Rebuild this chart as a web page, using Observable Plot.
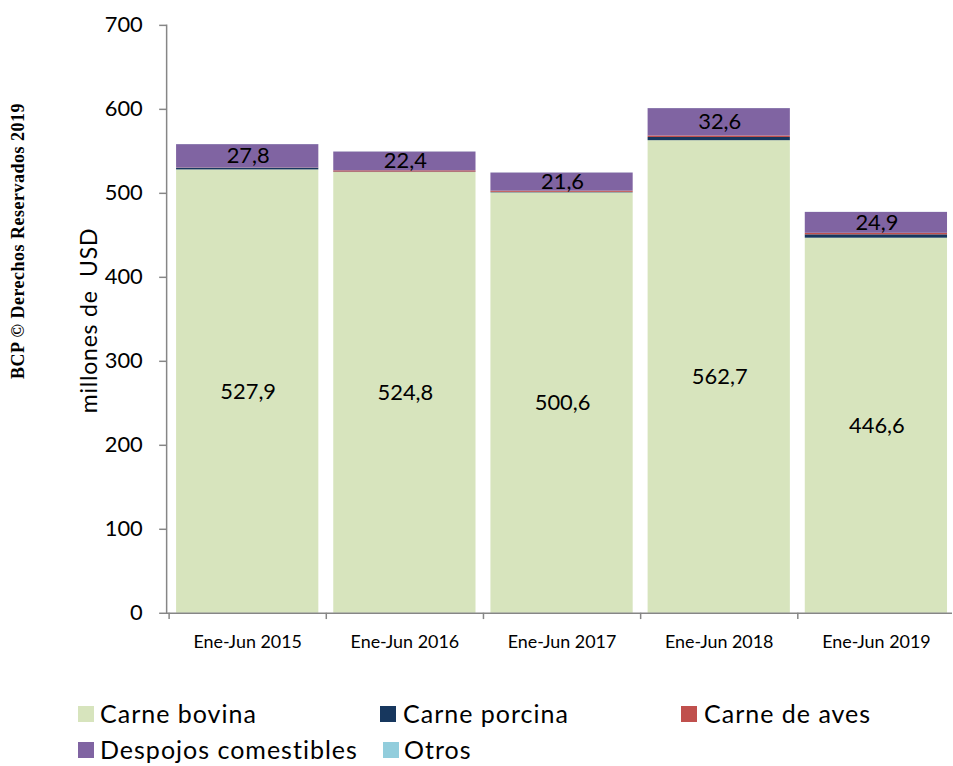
<!DOCTYPE html>
<html>
<head>
<meta charset="utf-8">
<script src="https://cdn.jsdelivr.net/npm/d3@7"></script>
<script src="https://cdn.jsdelivr.net/npm/@observablehq/plot@0.6"></script>
<style>
  html, body { margin: 0; padding: 0; background: #fff; overflow: hidden; }
  #wrap { position: relative; width: 953px; height: 766px; overflow: hidden; font-family: Lato, sans-serif; }
  #chart { position: absolute; left: 0; top: 0; }
  .rot { position: absolute; white-space: pre; transform-origin: center center; line-height: 1; }
  .leg { position: absolute; font-size: 25px; letter-spacing: 1px; color: #000; white-space: pre; line-height: 1; }
  .sw { position: absolute; width: 16px; height: 16px; }
</style>
</head>
<body>
<div id="wrap">
  <div id="chart"></div>
  <div class="rot" id="copy" style="font-family:'Liberation Serif',serif;font-weight:bold;font-size:18px;letter-spacing:0.5px;left:-132px;top:232px;width:300px;text-align:center;transform:rotate(-90deg);">BCP © Derechos Reservados 2019</div>
  <div class="rot" id="ylab" style="font-size:23px;letter-spacing:0.8px;left:-12px;top:309px;width:200px;text-align:center;transform:rotate(-90deg);">millones de  USD</div>
  <div id="legend"></div>
</div>
<script>
const years = ["Ene-Jun 2015", "Ene-Jun 2016", "Ene-Jun 2017", "Ene-Jun 2018", "Ene-Jun 2019"];
const seriesNames = ["Carne bovina", "Carne porcina", "Carne de aves", "Despojos comestibles", "Otros"];
const seriesColors = ["#d7e4bd", "#17375e", "#c0504d", "#8064a2", "#92cddc"];
const bovina   = [527.9, 524.8, 500.6, 562.7, 446.6];
const porcina  = [2.0, 0.5, 0.6, 3.8, 4.0];
const aves     = [0.3, 1.5, 1.4, 1.8, 1.8];
const despojos = [27.8, 22.4, 21.6, 32.6, 24.9];
const otros    = [0.1, 0.1, 0.1, 0.1, 0.1];
const yTicks = [0, 100, 200, 300, 400, 500, 600, 700];
const labeled = ["Carne bovina", "Despojos comestibles"];

const seriesValues = [bovina, porcina, aves, despojos, otros];
const data = [];
seriesNames.forEach((s, i) => years.forEach((y, j) => data.push({year: y, series: s, value: seriesValues[i][j]})));
const fmt = v => v.toFixed(1).replace(".", ",");

const gray = "#868686";
const plot = Plot.plot({
  width: 958,
  height: 690,
  marginLeft: 167,
  marginRight: 1,
  marginTop: 25,
  marginBottom: 74,
  style: {fontFamily: "Lato, sans-serif", background: "transparent"},
  x: {domain: years, range: [169, 959], paddingInner: 0.095, paddingOuter: 0.0475, axis: null, label: null},
  y: {domain: [0, 700], axis: null, label: null},
  color: {domain: seriesNames, range: seriesColors},
  marks: [
    Plot.barY(data, {x: "year", y: "value", fill: "series", order: seriesNames}),
    Plot.text(data, Plot.stackY({
      x: "year", y: "value", z: "series", order: seriesNames,
      text: d => labeled.includes(d.series) ? fmt(d.value) : "",
      fontSize: 22, fill: "#000", dx: 0.5
    })),
    Plot.frame({anchor: "left", stroke: gray, strokeWidth: 1.5}),
    Plot.ruleY([0], {stroke: gray, strokeWidth: 1.5}),
    Plot.ruleX(years, {x: d => d, y1: 0, y2: -7.5, dx: -79, stroke: gray, strokeWidth: 1.5}),
    Plot.axisY({ticks: yTicks, tickSize: 7, tickPadding: 17, fontSize: 22, stroke: gray, strokeWidth: 1.5, color: "#000", label: null, tickFormat: d => String(d), style: {letterSpacing: "1px"}}),
    Plot.axisX({tickSize: 0, tickPadding: 22, fontSize: 18, color: "#000", label: null, style: {letterSpacing: "1.5px"}})
  ]
});
document.getElementById("chart").appendChild(plot);

const legendItems = [
  {name: seriesNames[0], sx: 78, tx: 100, y: 706},
  {name: seriesNames[1], sx: 380, tx: 403, y: 706},
  {name: seriesNames[2], sx: 681, tx: 704, y: 706},
  {name: seriesNames[3], sx: 78, tx: 100, y: 742},
  {name: seriesNames[4], sx: 383, tx: 404, y: 742}
];
const leg = document.getElementById("legend");
legendItems.forEach(it => {
  const sw = document.createElement("div");
  sw.className = "sw";
  sw.style.left = it.sx + "px";
  sw.style.top = it.y + "px";
  sw.style.background = seriesColors[seriesNames.indexOf(it.name)];
  leg.appendChild(sw);
  const t = document.createElement("div");
  t.className = "leg";
  t.style.left = it.tx + "px";
  t.style.top = (it.y - 5) + "px";
  t.textContent = it.name;
  leg.appendChild(t);
});
</script>
</body>
</html>
